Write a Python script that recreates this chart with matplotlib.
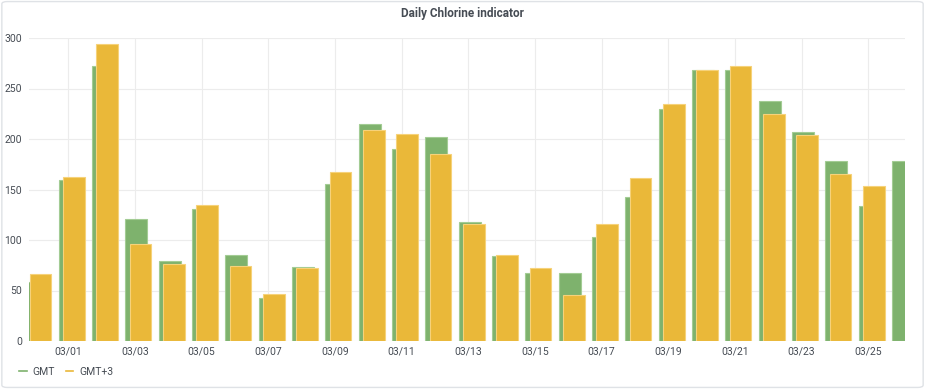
import matplotlib
matplotlib.use("Agg")
import matplotlib.pyplot as plt
import matplotlib.dates as mdates
from matplotlib.lines import Line2D
from matplotlib.patches import FancyBboxPatch
import pandas as pd
import numpy as np

# daily values, Feb 28 -> Mar 26
days = pd.date_range("2021-02-28", "2021-03-26", freq="D")
gmt = [58, 159, 272, 121, 79, 131, 85, 43, 73, 155, 215, 190, 202, 118,
       84, 67, 67, 103, 143, 230, 268, 268, 238, 207, 178, 134, 178]
gmt3 = [66, 162, 294, 96, 76, 135, 74, 47, 72, 167, 209, 205, 185, 116,
        85, 72, 46, 116, 161, 235, 268, 272, 225, 204, 165, 153]

GREEN = "#7eb26d"
YELLOW = "#eab839"
TEXT = "#464c54"

x = mdates.date2num(days)
bar_w = 0.66
start = -0.29          # bar left edge relative to midnight (days)
shift = 3 / 24         # GMT+3 offset

fig = plt.figure(figsize=(9.25, 3.89), dpi=100)
plt.rcParams["font.family"] = ["Roboto", "DejaVu Sans"]

# panel frame
fig.patches.append(FancyBboxPatch((0.002, 0.004), 0.996, 0.992, boxstyle="round,pad=0,rounding_size=0.006",
                                  transform=fig.transFigure, facecolor="none", edgecolor="#dfe2e6",
                                  linewidth=1.0, zorder=5))

ax = fig.add_axes([29 / 925, 1 - 341 / 389, (905 - 29) / 925, (341 - 38) / 389])
ax.set_facecolor("none")

ax.bar(x + start, gmt, width=bar_w, align="edge", color=GREEN,
       edgecolor="#a3cc94", linewidth=0.8, zorder=2)
ax.bar(x[:len(gmt3)] + start + shift, gmt3, width=bar_w, align="edge", color=YELLOW,
       edgecolor="#f6d27a", linewidth=0.8, zorder=3)

x0 = mdates.date2num(pd.Timestamp("2021-03-01")) - 1.18
x1 = mdates.date2num(pd.Timestamp("2021-03-01")) + 25.1
ax.set_xlim(x0, x1)
ax.set_ylim(0, 300)

ax.xaxis.set_major_locator(mdates.DayLocator(bymonthday=range(1, 32, 2)))
ax.xaxis.set_major_formatter(mdates.DateFormatter("%m/%d"))
ax.set_yticks(np.arange(0, 301, 50))

ax.grid(True, color="#ececec", linewidth=0.8, zorder=0)
ax.set_axisbelow(True)
for s in ax.spines.values():
    s.set_visible(False)
ax.tick_params(length=0, labelsize=7.5, colors=TEXT, pad=4)
ax.tick_params(axis="y", pad=5)

fig.text(0.5, 1 - 13 / 389, "Daily Chlorine indicator", ha="center", va="center",
         fontsize=8.5, fontweight="bold", color=TEXT)

handles = [Line2D([], [], color=GREEN, lw=1.2), Line2D([], [], color=YELLOW, lw=1.2)]
fig.legend(handles, ["GMT", "GMT+3"], loc="center left", bbox_to_anchor=(14 / 925, 1 - 372 / 389),
           ncol=2, frameon=False, fontsize=7.5, handlelength=0.7, handletextpad=0.6,
           columnspacing=1.0, labelcolor=TEXT, borderpad=0)

fig.savefig("out.png", dpi=100, facecolor="white")
